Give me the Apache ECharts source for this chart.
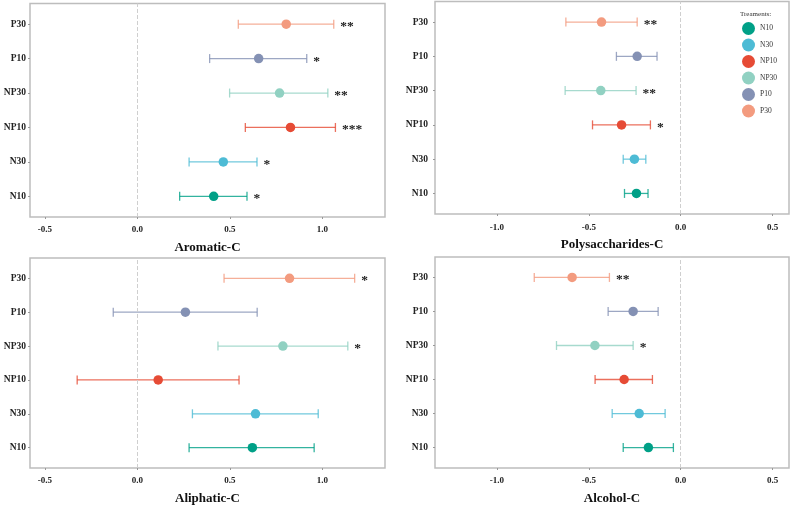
<!DOCTYPE html>
<html>
<head>
<meta charset="utf-8">
<script src="https://cdn.jsdelivr.net/npm/echarts@6/dist/echarts.min.js"></script>
<style>html,body{margin:0;padding:0;background:#fff}#c{width:791px;height:506px}</style>
</head>
<body>
<div id="c"></div>
<script>
// ---- data ----
const categories = ['N10', 'N30', 'NP10', 'NP30', 'P10', 'P30'];
const colors = ['#00a087', '#4dbbd5', '#e64b35', '#91d1c2', '#8491b4', '#f39b7f'];

const aromaticMean = [0.412, 0.464, 0.827, 0.768, 0.655, 0.804];
const aromaticLow  = [0.228, 0.279, 0.583, 0.498, 0.390, 0.545];
const aromaticHigh = [0.592, 0.646, 1.070, 1.029, 0.915, 1.061];
const aromaticSig  = ['*', '*', '***', '**', '*', '**'];

const polyMean = [-0.241, -0.252, -0.322, -0.435, -0.237, -0.431];
const polyLow  = [-0.306, -0.313, -0.480, -0.629, -0.350, -0.625];
const polyHigh = [-0.178, -0.190, -0.165, -0.243, -0.129, -0.237];
const polySig  = ['', '', '*', '**', '', '**'];

const aliphaticMean = [0.621, 0.638, 0.112, 0.786, 0.259, 0.822];
const aliphaticLow  = [0.279, 0.297, -0.326, 0.435, -0.131, 0.468];
const aliphaticHigh = [0.955, 0.977, 0.549, 1.137, 0.647, 1.174];
const aliphaticSig  = ['', '', '', '*', '', '*'];

const alcoholMean = [-0.176, -0.226, -0.308, -0.467, -0.259, -0.591];
const alcoholLow  = [-0.313, -0.373, -0.466, -0.676, -0.395, -0.797];
const alcoholHigh = [-0.040, -0.085, -0.154, -0.259, -0.123, -0.388];
const alcoholSig  = ['', '', '', '*', '', '**'];

const posTicks = [-0.5, 0, 0.5, 1.0];
const negTicks = [-1.0, -0.5, 0, 0.5];

// ---- layout ----
const panels = [
  {title: 'Aromatic-C', mean: aromaticMean, low: aromaticLow, high: aromaticHigh, sig: aromaticSig, ticks: posTicks,
   grid: {left: 30, top: 3.5, width: 355, height: 213.5}, min: -0.581, max: 1.338, lblMargin: 4, xMargin: 8},
  {title: 'Polysaccharides-C', mean: polyMean, low: polyLow, high: polyHigh, sig: polySig, ticks: negTicks,
   grid: {left: 435, top: 1.5, width: 354, height: 212.5}, min: -1.337, max: 0.589, lblMargin: 7, xMargin: 9.5},
  {title: 'Aliphatic-C', mean: aliphaticMean, low: aliphaticLow, high: aliphaticHigh, sig: aliphaticSig, ticks: posTicks,
   grid: {left: 30, top: 258, width: 355, height: 212}, min: -0.581, max: 1.338, lblMargin: 4, xMargin: 8},
  {title: 'Alcohol-C', mean: alcoholMean, low: alcoholLow, high: alcoholHigh, sig: alcoholSig, ticks: negTicks,
   grid: {left: 435, top: 257, width: 354, height: 213}, min: -1.337, max: 0.589, lblMargin: 7, xMargin: 8}
];

const FONT = '"Liberation Serif", "Times New Roman", serif';
const catVals = categories.map((c, i) => i + 1);

function alpha(hex, a) {
  const r = parseInt(hex.slice(1, 3), 16), g = parseInt(hex.slice(3, 5), 16), b = parseInt(hex.slice(5, 7), 16);
  return `rgba(${r},${g},${b},${a})`;
}

const grids = [], xAxes = [], yAxes = [], series = [];
panels.forEach((p, pi) => {
  grids.push(Object.assign({show: true, borderColor: '#bdbdbd', borderWidth: 1.5, backgroundColor: '#fff'}, p.grid));
  xAxes.push({
    type: 'value', gridIndex: pi, min: p.min, max: p.max, position: 'bottom',
    name: p.title, nameLocation: 'middle', nameGap: 24,
    nameTextStyle: {fontFamily: FONT, fontWeight: 'bold', fontSize: 13, color: '#111'},
    axisLine: {show: false, onZero: false},
    axisTick: {show: true, length: 2, lineStyle: {color: '#999'}, customValues: p.ticks},
    axisLabel: {customValues: p.ticks, fontFamily: FONT, fontWeight: 'bold', fontSize: 9, color: '#222', margin: p.xMargin,
      formatter: v => v.toFixed(1)},
    splitLine: {show: false}
  });
  yAxes.push({
    type: 'value', gridIndex: pi, min: 0.4, max: 6.6, position: 'left',
    axisLine: {show: false, onZero: false},
    axisTick: {show: true, length: 2, lineStyle: {color: '#999'}, customValues: catVals},
    axisLabel: {customValues: catVals, fontFamily: FONT, fontWeight: 'bold', fontSize: 9.5, color: '#222',
      margin: p.lblMargin, formatter: v => categories[Math.round(v) - 1]},
    splitLine: {show: false}
  });
  // error bars + significance
  series.push({
    type: 'custom', xAxisIndex: pi, yAxisIndex: pi, silent: true, z: 2,
    data: categories.map((c, i) => [p.low[i], p.high[i], i + 1, i]),
    renderItem: (params, api) => {
      const lo = api.coord([api.value(0), api.value(2)]);
      const hi = api.coord([api.value(1), api.value(2)]);
      const ci = api.value(3);
      const col = alpha(colors[ci], 0.8);
      const h = 4.5;
      const st = {stroke: col, lineWidth: 1.3};
      const children = [
        {type: 'line', shape: {x1: lo[0], y1: lo[1], x2: hi[0], y2: hi[1]}, style: st},
        {type: 'line', shape: {x1: lo[0], y1: lo[1] - h, x2: lo[0], y2: lo[1] + h}, style: st},
        {type: 'line', shape: {x1: hi[0], y1: hi[1] - h, x2: hi[0], y2: hi[1] + h}, style: st}
      ];
      const s = p.sig[ci];
      if (s) {
        children.push({type: 'text', x: hi[0] + 6.5, y: hi[1] + 2.5,
          style: {text: s, fill: '#222', font: 'bold 13.5px ' + FONT, align: 'left', verticalAlign: 'middle'}});
      }
      return {type: 'group', children};
    },
    markLine: {
      silent: true, symbol: 'none', label: {show: false},
      lineStyle: {type: 'dashed', color: '#cfcfcf', width: 1},
      data: [{xAxis: 0}]
    }
  });
  categories.forEach((c, i) => {
    series.push({
      type: 'scatter', name: c, xAxisIndex: pi, yAxisIndex: pi, z: 3,
      symbol: 'circle', symbolSize: 9.5,
      itemStyle: {color: colors[i], opacity: 1},
      data: [[p.mean[i], i + 1]]
    });
  });
});

const chart = echarts.init(document.getElementById('c'), null, {renderer: 'canvas'});
chart.setOption({
  animation: false,
  grid: grids, xAxis: xAxes, yAxis: yAxes, series,
  legend: {
    data: categories, orient: 'vertical', left: 742, top: 22,
    itemWidth: 13, itemHeight: 13, itemGap: 3.5, icon: 'circle', padding: 0,
    textStyle: {fontFamily: FONT, fontSize: 7.5, color: '#333'}
  },
  graphic: [{type: 'text', left: 740, top: 11,
    style: {text: 'Treaments:', font: '7px ' + FONT, fill: '#333'}}]
});
</script>
</body>
</html>
